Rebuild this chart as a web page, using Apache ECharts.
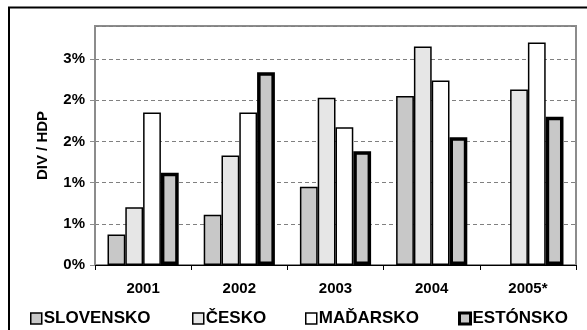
<!DOCTYPE html>
<html>
<head>
<meta charset="utf-8">
<script src="https://cdn.jsdelivr.net/npm/echarts@6/dist/echarts.min.js"></script>
<style>
  html, body { margin: 0; padding: 0; background: #fff; }
  #chart { width: 587px; height: 330px; }
</style>
</head>
<body>
<div id="chart"></div>
<script>
// Years on the category axis
var years = ['2001', '2002', '2003', '2004', '2005*'];

// Share of FDI in GDP (%) per country
var slovensko = [0.37, 0.61, 0.95, 2.05, null];
var cesko     = [0.70, 1.33, 2.03, 2.65, 2.13];
var madarsko  = [1.85, 1.85, 1.67, 2.24, 2.70];
var estonsko  = [1.12, 2.34, 1.38, 1.55, 1.80];

var seriesNames = ['SLOVENSKO', 'ČESKO', 'MAĎARSKO', 'ESTÓNSKO'];

var FONT = '"Liberation Sans", Arial, sans-serif';

var styles = [
  { color: '#c8c8c8', borderColor: '#000', borderWidth: 1.5 },
  { color: '#e6e6e6', borderColor: '#000', borderWidth: 1.5 },
  { color: '#ffffff', borderColor: '#000', borderWidth: 1.5 },
  { color: '#c8c8c8', borderColor: '#000', borderWidth: 3.5 }
];
var values = [slovensko, cesko, madarsko, estonsko];

var legendLefts = [30, 192, 305, 458];

var chart = echarts.init(document.getElementById('chart'), null, { renderer: 'canvas' });

var option = {
  animation: false,
  backgroundColor: '#fff',
  graphic: [{
    type: 'rect',
    shape: { x: 9, y: 7.5, width: 700, height: 500 },
    style: { fill: 'none', stroke: '#000', lineWidth: 2 },
    silent: true
  }],
  grid: {
    left: 95, right: 11, top: 26, bottom: 65,
    show: true, borderColor: '#8c8c8c', borderWidth: 2, backgroundColor: '#fff'
  },
  legend: seriesNames.map(function (n, i) {
    return {
      data: [{ name: n, icon: 'rect', itemStyle: { color: styles[i].color, borderColor: '#000', borderWidth: i === 3 ? 3 : 1.5 } }],
      left: legendLefts[i], top: 310,
      padding: 0,
      itemWidth: 11, itemHeight: 11,
      selectedMode: false,
      textStyle: { fontFamily: FONT, fontWeight: 'bold', fontSize: 17, color: '#000', padding: [0, 0, 0, -3] }
    };
  }),
  xAxis: {
    type: 'category',
    data: years,
    axisLine: { lineStyle: { color: '#000', width: 1 } },
    axisTick: { show: true, length: 5, lineStyle: { color: '#000' } },
    axisLabel: { fontFamily: FONT, fontWeight: 'bold', fontSize: 15, color: '#000', margin: 16 }
  },
  yAxis: {
    type: 'value',
    min: 0, max: 2.9, interval: 0.5,
    name: 'DIV / HDP',
    nameLocation: 'middle',
    nameGap: 45,
    nameRotate: 90,
    nameTextStyle: { fontFamily: FONT, fontWeight: 'bold', fontSize: 15, color: '#000' },
    axisLine: { show: true, lineStyle: { color: '#8c8c8c', width: 2 } },
    axisTick: { show: true, length: 5, inside: false, lineStyle: { color: '#8c8c8c' } },
    axisLabel: {
      fontFamily: FONT, fontWeight: 'bold', fontSize: 15, color: '#000', margin: 10,
      showMaxLabel: false,
      formatter: function (v) { return Math.round(v) + '%'; }
    },
    splitLine: { show: true, lineStyle: { color: '#808080', type: [4, 3], width: 1 } }
  },
  series: seriesNames.map(function (n, i) {
    return {
      name: n,
      type: 'bar',
      data: values[i],
      barGap: '0%',
      barCategoryGap: '26%',
      itemStyle: styles[i]
    };
  })
};

chart.setOption(option);
</script>
</body>
</html>
